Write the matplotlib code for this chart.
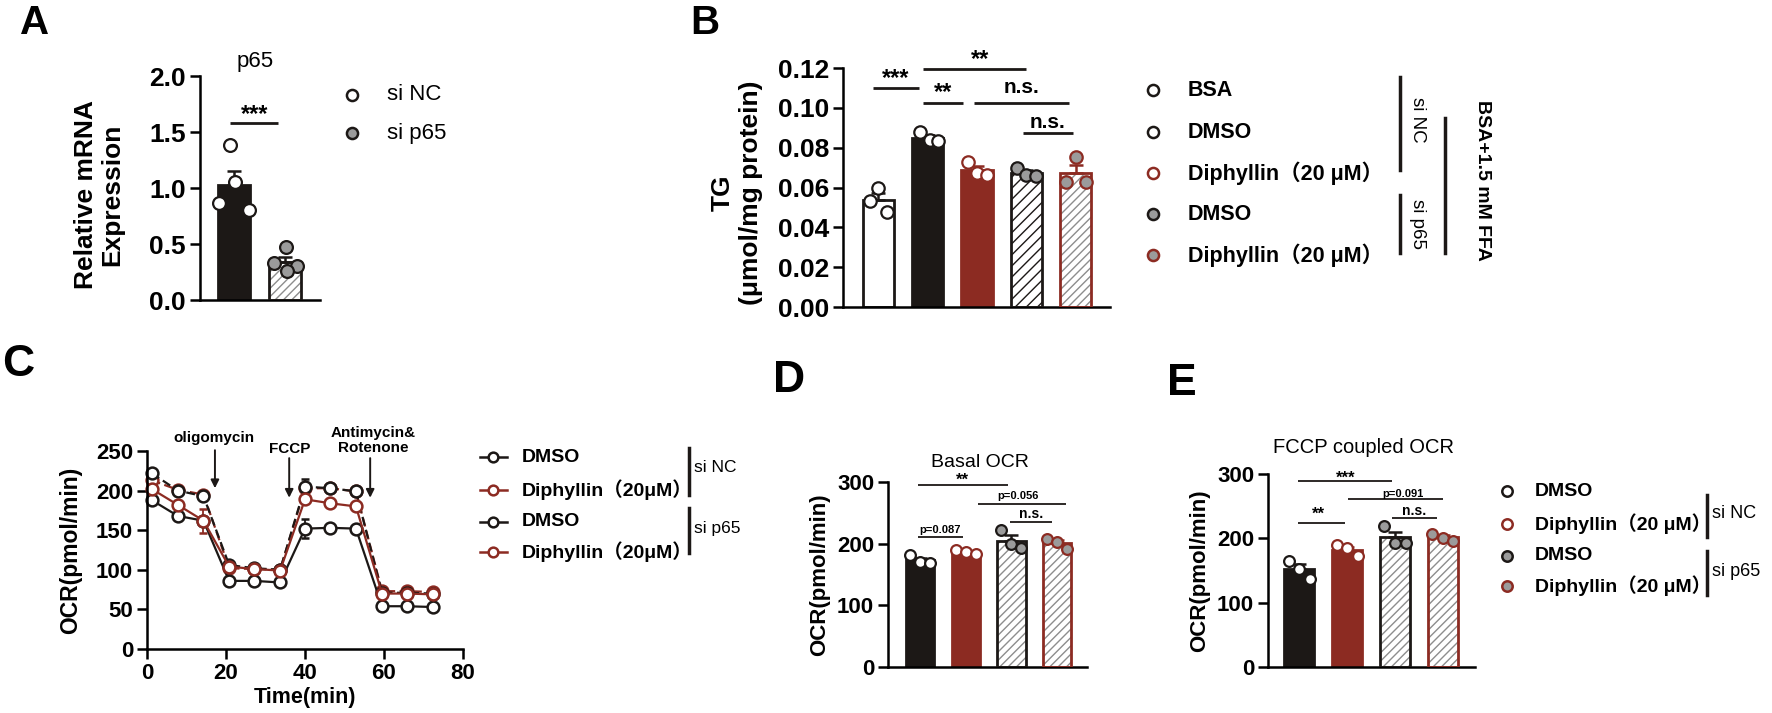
import numpy as np
import matplotlib
matplotlib.use('Agg')
import matplotlib.pyplot as plt

plt.rcParams['font.family'] = ['Liberation Sans', 'Noto Sans CJK SC']
plt.rcParams['font.weight'] = 'bold'
plt.rcParams['axes.labelweight'] = 'bold'
plt.rcParams['hatch.linewidth'] = 1.0
plt.rcParams['axes.linewidth'] = 1.8

W, H = 1772, 713
BLACK = '#1c1816'
RED = '#8c2b22'
GREY = '#9b9b9b'
HGREY = '#8d8d8d'

# ---------------- data ----------------
# A: p65 mRNA
a_groups = ['si NC', 'si p65']
a_points = [[1.38, 1.05, 0.87, 0.80],
            [0.47, 0.33, 0.30, 0.26]]

# B: TG content (BSA + 1.5 mM FFA)
b_groups = ['BSA', 'DMSO', 'Diphyllin（20 μM）', 'DMSO', 'Diphyllin（20 μM）']
b_points = [[0.0597, 0.0533, 0.0477],
            [0.0879, 0.0838, 0.0832],
            [0.0729, 0.0675, 0.0665],
            [0.0697, 0.0665, 0.0660],
            [0.0755, 0.0630, 0.0630]]

# C: OCR time course
c_time = [1.2, 7.8, 14.3, 20.8, 27.2, 33.7, 40.0, 46.4, 52.9, 59.5, 65.8, 72.4]
c_nc_dmso = [188, 168, 162, 86, 86, 84, 152, 153, 152, 54, 54, 53]
c_nc_diph = [202, 182, 162, 104, 101, 99, 189, 184, 180, 70, 70, 69]
c_p65_dmso = [222, 200, 193, 106, 102, 100, 205, 203, 199, 71, 71, 70]
c_p65_diph = [213, 201, 195, 102, 101, 100, 203, 203, 199, 73, 73, 72]
c_nc_dmso_sem = [4, 3, 3, 2, 2, 2, 12, 3, 3, 2, 2, 2]
c_nc_diph_sem = [5, 4, 15, 3, 2, 2, 5, 4, 4, 3, 2, 2]
c_p65_dmso_sem = [5, 4, 3, 2, 2, 2, 10, 3, 3, 2, 2, 2]
c_p65_diph_sem = [6, 5, 5, 3, 2, 2, 5, 3, 3, 2, 3, 3]
c_legend = ['DMSO', 'Diphyllin（20μM）', 'DMSO', 'Diphyllin（20μM）']

# D / E: Basal and FCCP coupled OCR
de_groups = ['DMSO', 'Diphyllin（20 μM）', 'DMSO', 'Diphyllin（20 μM）']
d_points = [[181, 170, 169], [189, 187, 183], [222, 200, 193], [208, 203, 191]]
e_points = [[165, 153, 137], [189, 185, 172], [219, 193, 192], [207, 201, 196]]

# ---------------- figure ----------------
fig = plt.figure(figsize=(W / 100, H / 100), dpi=100)


def add_ax(l, t, r, b):
    return fig.add_axes([l / W, 1 - b / H, (r - l) / W, (b - t) / H])


def style_ax(ax, fs):
    for s in ['top', 'right']:
        ax.spines[s].set_visible(False)
    ax.tick_params(axis='y', length=7, width=1.8, labelsize=fs, pad=3)
    ax.tick_params(axis='x', length=7, width=1.8, labelsize=fs, pad=3)


# bar style: (face, edge, hatch, hatch colour, point face, point edge)
ST_NC_BSA = ('white', BLACK, None, None, 'white', BLACK)
ST_NC_DMSO = (BLACK, BLACK, None, None, 'white', BLACK)
ST_NC_DIPH = (RED, RED, None, None, 'white', RED)
ST_P65_DMSO = ('white', BLACK, '////', HGREY, GREY, BLACK)
ST_P65_DMSO_B = ('white', BLACK, '///', BLACK, GREY, BLACK)
ST_P65_DIPH = ('white', RED, '////', HGREY, GREY, RED)


def draw_bars(ax, points, styles, width, offsets, ms=70):
    for i, (pts, st) in enumerate(zip(points, styles)):
        face, edge, hatch, hcol, pface, pedge = st
        m = np.mean(pts)
        sem = np.std(pts, ddof=1) / np.sqrt(len(pts))
        if hatch:
            ax.bar(i, m, width, color='white', edgecolor=hcol, hatch=hatch, lw=0, zorder=2)
            ax.bar(i, m, width, fill=False, edgecolor=edge, lw=2.0, zorder=3)
        else:
            ax.bar(i, m, width, color=face, edgecolor=edge, lw=2.0, zorder=2)
        ax.errorbar(i, m, yerr=[[0], [sem]], color=edge, capsize=5, capthick=1.8,
                    elinewidth=1.8, zorder=3)
        ax.scatter(np.array(offsets[i]) + i, pts, s=ms, facecolor=pface, edgecolor=pedge,
                   lw=1.6, zorder=4, clip_on=False)


def draw_sig(ax, sigs, lw=1.6):
    for x1, x2, yl, xt, yt, lab, fs in sigs:
        ax.plot([x1, x2], [yl, yl], color=BLACK, lw=lw, clip_on=False, solid_capstyle='butt')
        ax.text(xt, yt, lab, ha='center', va='baseline', fontsize=fs, clip_on=False)


# ---------- A ----------
axA = add_ax(200, 76, 320, 300)
style_ax(axA, 19)
draw_bars(axA, a_points, [ST_NC_DMSO, ST_P65_DMSO], 0.63,
          [[-0.08, 0.02, -0.3, 0.3], [0.02, -0.2, 0.25, 0.05]], ms=85)
axA.set_xlim(-0.67, 1.70)
axA.set_ylim(0, 2.0)
axA.set_yticks([0, 0.5, 1.0, 1.5, 2.0])
axA.set_xticks([])
axA.set_ylabel('Relative mRNA\nExpression', fontsize=19, fontweight='bold', linespacing=1.15)
axA.yaxis.set_label_coords(-0.63, 0.47)
axA.text(0.46, 1.065, 'p65', transform=axA.transAxes, ha='center', va='center',
         fontsize=16, fontweight='normal')
draw_sig(axA, [(-0.08, 0.87, 1.58, 0.40, 1.60, '***', 17)], lw=2.0)

# ---------- B ----------
axB = add_ax(843, 68, 1110, 307)
style_ax(axB, 19)
draw_bars(axB, b_points,
          [ST_NC_BSA, ST_NC_DMSO, ST_NC_DIPH, ST_P65_DMSO_B, ST_P65_DIPH], 0.63,
          [[0.0, -0.17, 0.18], [-0.15, 0.05, 0.22], [-0.18, 0.0, 0.2],
           [-0.2, 0.0, 0.2], [0.0, -0.2, 0.2]], ms=80)
axB.set_xlim(-0.71, 4.69)
axB.set_ylim(0, 0.12)
axB.set_yticks(np.arange(0, 0.121, 0.02))
axB.set_yticklabels(['0.00', '0.02', '0.04', '0.06', '0.08', '0.10', '0.12'])
axB.set_xticks([])
axB.set_ylabel('TG\n(μmol/mg protein)', fontsize=19, fontweight='bold', linespacing=1.2)
axB.yaxis.set_label_coords(-0.30, 0.48)
draw_sig(axB, [(-0.10, 0.83, 0.1100, 0.36, 0.1113, '***', 17),
               (0.91, 2.99, 0.1195, 2.06, 0.1212, '**', 17),
               (0.91, 1.72, 0.1024, 1.31, 0.1043, '**', 17),
               (1.94, 3.86, 0.1024, 2.91, 0.1072, 'n.s.', 15),
               (2.93, 3.94, 0.0874, 3.43, 0.0898, 'n.s.', 15)], lw=2.0)

# ---------- C ----------
axC = add_ax(147, 451, 463, 649)
style_ax(axC, 16)
c_series = [(c_p65_diph, c_p65_diph_sem, RED, (4, 2)),
            (c_p65_dmso, c_p65_dmso_sem, BLACK, (4, 2)),
            (c_nc_dmso, c_nc_dmso_sem, BLACK, None),
            (c_nc_diph, c_nc_diph_sem, RED, None)]
for vals, sem, col, dash in c_series:
    line = axC.errorbar(c_time, vals, yerr=sem, color=col, lw=1.6, capsize=3,
                        elinewidth=1.3, marker='o', ms=8.5, mfc='white', mec=col, mew=1.8,
                        clip_on=False)
    if dash:
        line[0].set_dashes(dash)
axC.set_xlim(0, 80)
axC.set_ylim(0, 250)
axC.set_xticks([0, 20, 40, 60, 80])
axC.set_yticks([0, 50, 100, 150, 200, 250])
axC.set_xlabel('Time(min)', fontsize=15.5, fontweight='bold', labelpad=2)
axC.set_ylabel('OCR(pmol/min)', fontsize=16.5, fontweight='bold')
axC.yaxis.set_label_coords(-0.205, 0.5)
arrows = [(17.2, 251, 203, 17.0, 266, 'oligomycin'),
          (36.0, 241, 191, 36.0, 252, 'FCCP'),
          (56.5, 241, 191, 57.2, 263, 'Antimycin&\nRotenone')]
for xa, y0, y1, xt, yt, lab in arrows:
    axC.annotate('', xy=(xa, y1), xytext=(xa, y0), annotation_clip=False,
                 arrowprops=dict(arrowstyle='-|>', color=BLACK, lw=1.4,
                                 mutation_scale=12, shrinkA=0, shrinkB=0))
    axC.text(xt, yt, lab, ha='center', va='center', fontsize=11, linespacing=1.1,
             clip_on=False)

# ---------- D ----------
de_styles = [ST_NC_DMSO, ST_NC_DIPH, ST_P65_DMSO, ST_P65_DIPH]
de_offsets = [[-0.22, 0.0, 0.22], [-0.22, 0.0, 0.22], [-0.22, 0.0, 0.22], [-0.22, 0.0, 0.22]]
axD = add_ax(888, 482, 1087, 667)
style_ax(axD, 16)
draw_bars(axD, d_points, de_styles, 0.62, de_offsets, ms=60)
axD.set_xlim(-0.71, 3.66)
axD.set_ylim(0, 300)
axD.set_yticks([0, 100, 200, 300])
axD.set_xticks([])
axD.set_ylabel('OCR(pmol/min)', fontsize=16, fontweight='bold')
axD.yaxis.set_label_coords(-0.29, 0.5)
axD.text(0.462, 1.108, 'Basal OCR', transform=axD.transAxes, ha='center', va='center',
         fontsize=14, fontweight='normal')
draw_sig(axD, [(-0.05, 1.92, 295, 0.93, 296, '**', 12),
               (1.26, 3.20, 264, 2.14, 273, 'p=0.056', 8),
               (1.97, 2.89, 235, 2.43, 241, 'n.s.', 10),
               (-0.05, 0.93, 211, 0.44, 217, 'p=0.087', 8)], lw=1.3)

# ---------- E ----------
axE = add_ax(1268, 474, 1475, 667)
style_ax(axE, 16)
draw_bars(axE, e_points, de_styles, 0.625, de_offsets, ms=60)
axE.set_xlim(-0.65, 3.67)
axE.set_ylim(0, 300)
axE.set_yticks([0, 100, 200, 300])
axE.set_xticks([])
axE.set_ylabel('OCR(pmol/min)', fontsize=16, fontweight='bold')
axE.yaxis.set_label_coords(-0.28, 0.5)
axE.text(0.459, 1.135, 'FCCP coupled OCR', transform=axE.transAxes, ha='center',
         va='center', fontsize=14.5, fontweight='normal')
draw_sig(axE, [(-0.02, 1.94, 289, 0.97, 287, '***', 12),
               (1.02, 3.00, 261, 2.17, 264, 'p=0.091', 8),
               (-0.02, 0.96, 224, 0.40, 231, '**', 12),
               (1.94, 2.88, 231, 2.40, 236, 'n.s.', 10)], lw=1.3)

# ---------- legends / labels (pixel overlay) ----------
ov = fig.add_axes([0, 0, 1, 1])
ov.set_xlim(0, W)
ov.set_ylim(H, 0)
ov.axis('off')
ov.patch.set_alpha(0)

# A legend
for y, lab, st in zip([95, 133], a_groups, [ST_NC_DMSO, ST_P65_DMSO]):
    ov.plot(352, y, 'o', ms=8, mfc=st[4], mec=st[5], mew=1.8)
    ov.text(387, y, lab, va='center', fontsize=16, fontweight='normal')

# B legend
for y, lab, st in zip([90, 132, 173, 214, 255], b_groups,
                      [ST_NC_BSA, ST_NC_DMSO, ST_NC_DIPH, ST_P65_DMSO, ST_P65_DIPH]):
    ov.plot(1153, y, 'o', ms=8, mfc=st[4], mec=st[5], mew=1.8)
    ov.text(1188, y, lab, va='center', fontsize=15.5)
ov.plot([1400, 1400], [77, 170], color=BLACK, lw=2.5)
ov.plot([1400, 1400], [195, 253], color=BLACK, lw=2.5)
ov.plot([1445, 1445], [118, 253], color=BLACK, lw=2.5)
ov.text(1418, 120, 'si NC', rotation=270, ha='center', va='center', fontsize=13.5,
        fontweight='normal')
ov.text(1418, 224, 'si p65', rotation=270, ha='center', va='center', fontsize=13.5,
        fontweight='normal')
ov.text(1483, 180, 'BSA+1.5 mM FFA', rotation=270, ha='center', va='center', fontsize=14)

# C legend
for y, lab, col in zip([457, 490, 522, 552], c_legend, [BLACK, RED, BLACK, RED]):
    ov.plot([480, 507], [y, y], color=col, lw=1.8)
    ov.plot(493, y, 'o', ms=7, mfc='white', mec=col, mew=1.8)
    ov.text(522, y, lab, va='center', fontsize=14)
ov.plot([689, 689], [448, 495], color=BLACK, lw=2.5)
ov.plot([689, 689], [508, 553], color=BLACK, lw=2.5)
ov.text(694, 468, 'si NC', va='center', fontsize=12.5, fontweight='normal')
ov.text(694, 528, 'si p65', va='center', fontsize=12.5, fontweight='normal')

# D/E legend
for y, lab, st in zip([491, 524, 556, 586], de_groups, de_styles):
    ov.plot(1507, y, 'o', ms=7.5, mfc=st[4], mec=st[5], mew=1.8)
    ov.text(1535, y, lab, va='center', fontsize=14)
ov.plot([1707, 1707], [495, 537], color=BLACK, lw=2.5)
ov.plot([1707, 1707], [551, 595], color=BLACK, lw=2.5)
ov.text(1712, 513, 'si NC', va='center', fontsize=13, fontweight='normal')
ov.text(1712, 572, 'si p65', va='center', fontsize=13, fontweight='normal')

# panel letters
for x, y, lab, fs in [(20, 4, 'A', 29), (690, 4, 'B', 29), (2, 344, 'C', 32),
                      (773, 360, 'D', 32), (1167, 363, 'E', 32)]:
    ov.text(x, y, lab, ha='left', va='top', fontsize=fs)

fig.savefig('out.png', dpi=100)
